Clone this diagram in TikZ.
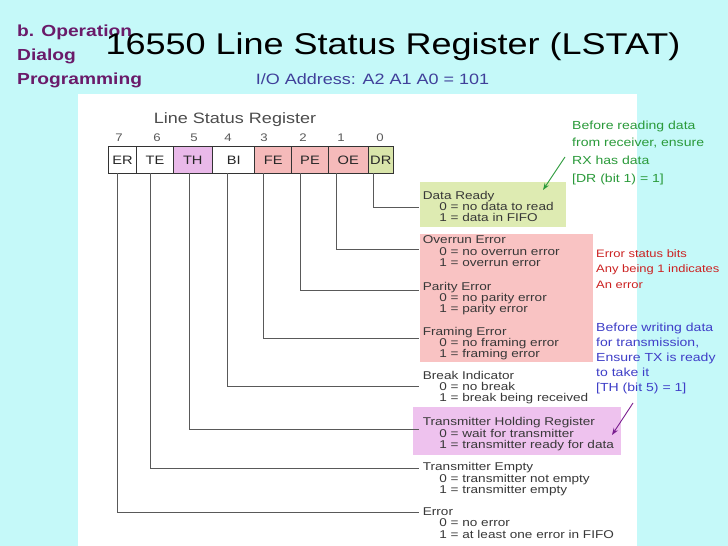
\documentclass[tikz,border=0pt]{standalone}
\usepackage{fontspec}
\setmainfont{Liberation Sans}[FakeStretch=1.2]
\usetikzlibrary{arrows.meta}
\definecolor{bgcyan}{HTML}{C5F9F9}
\definecolor{labelpurple}{HTML}{6A1B6A}
\definecolor{addrblue}{HTML}{40409A}
\definecolor{drgreen}{HTML}{DEEBB2}
\definecolor{cellgreen}{HTML}{D9E5AA}
\definecolor{errpink}{HTML}{F9C3C3}
\definecolor{cellpink}{HTML}{F5BABA}
\definecolor{thpurple}{HTML}{EEC2EE}
\definecolor{cellpurple}{HTML}{E9B9E9}
\definecolor{notegreen}{HTML}{2A9A3A}
\definecolor{notered}{HTML}{CC2222}
\definecolor{noteblue}{HTML}{3F3FC8}
\definecolor{arrowpurple}{HTML}{7A1F8F}
\newcommand\ind{\hspace*{16.5pt}}

\begin{document}
\begin{tikzpicture}[x=1pt,y=-1pt,
  cell/.style={draw=black!80,line width=1pt,minimum height=26.3pt,inner sep=0pt,font=\fontsize{12.2}{13}\selectfont,text=black!85},
  bitno/.style={anchor=base,inner sep=0pt,font=\fontsize{11}{12}\selectfont,text=black!65},
  desc/.style={anchor=north west,inner sep=0pt,align=left,text=black!78,font=\fontsize{11.3}{11.4}\selectfont},
  lead/.style={draw=black!65,line width=.9pt},
  note/.style={anchor=north west,inner sep=0pt,align=left,font=\fontsize{11.7}{15.6}\selectfont}]
\path[use as bounding box] (0,0) rectangle (728,546);
\fill[bgcyan] (0,0) rectangle (728,546);
\fill[white] (77.5,94) rectangle (637,546);
\node[anchor=north west,inner sep=0pt,align=left,text=labelpurple,font=\bfseries\fontsize{16}{24}\selectfont] (part) at (17,25) {b. Operation\\Dialog\\Programming};
\node[anchor=base,inner sep=0pt,font=\fontsize{30}{36}\selectfont] (title) at (393,54) {16550 Line Status Register (LSTAT)};
\node[anchor=base,inner sep=0pt,text=addrblue,font=\fontsize{15}{18}\selectfont] (addr) at (372.5,84) {I/O Address: A2 A1 A0 = 101};

\node[anchor=base,inner sep=0pt,text=black!70,font=\fontsize{15}{18}\selectfont] (lsr) at (235,123) {Line Status Register};
\node[bitno] (n7) at (119,141) {7};
\node[bitno] (n6) at (157,141) {6};
\node[bitno] (n5) at (194,141) {5};
\node[bitno] (n4) at (228,141) {4};
\node[bitno] (n3) at (264,141) {3};
\node[bitno] (n2) at (303,141) {2};
\node[bitno] (n1) at (341,141) {1};
\node[bitno] (n0) at (380,141) {0};
\node[cell,minimum width=28.4pt] (ER) at (122.5,160) {ER};
\node[cell,minimum width=36.6pt] (TE) at (155,160) {TE};
\node[cell,minimum width=39pt,fill=cellpurple] (TH) at (192.8,160) {TH};
\node[cell,minimum width=42.7pt] (BI) at (233.7,160) {BI};
\node[cell,minimum width=36.7pt,fill=cellpink] (FE) at (273.3,160) {FE};
\node[cell,minimum width=36.6pt,fill=cellpink] (PE) at (310,160) {PE};
\node[cell,minimum width=40pt,fill=cellpink] (OE) at (348.3,160) {OE};
\node[cell,minimum width=25pt,fill=cellgreen] (DR) at (380.8,160) {DR};

\fill[drgreen] (420,182) rectangle (566,227);
\fill[errpink] (420,234) rectangle (593,362);
\fill[thpurple] (413,407) rectangle (621,455);

\coordinate (tDR) at (373.3,173.2); \coordinate (eDR) at (419,207);
\coordinate (tOE) at (336.7,173.2); \coordinate (eOE) at (419,249);
\coordinate (tPE) at (300,173.2);   \coordinate (ePE) at (419,290);
\coordinate (tFE) at (263.3,173.2); \coordinate (eFE) at (419,338);
\coordinate (tBI) at (227.3,173.2); \coordinate (eBI) at (419,386);
\coordinate (tTH) at (189,173.2);   \coordinate (eTH) at (419,429);
\coordinate (tTE) at (150.7,173.2); \coordinate (eTE) at (419,468);
\coordinate (tER) at (117.3,173.2); \coordinate (eER) at (419,512);
\draw[lead] (tDR) |- (eDR);
\draw[lead] (tOE) |- (eOE);
\draw[lead] (tPE) |- (ePE);
\draw[lead] (tFE) |- (eFE);
\draw[lead] (tBI) |- (eBI);
\draw[lead] (tTH) |- (eTH);
\draw[lead] (tTE) |- (eTE);
\draw[lead] (tER) |- (eER);

\node[desc] (dDR) at (422.7,190.8) {Data Ready\\\ind 0 = no data to read\\\ind 1 = data in FIFO};
\node[desc] (dOE) at (422.7,235.8) {Overrun Error\\\ind 0 = no overrun error\\\ind 1 = overrun error};
\node[desc] (dPE) at (422.7,281.8) {Parity Error\\\ind 0 = no parity error\\\ind 1 = parity error};
\node[desc] (dFE) at (422.7,326.8) {Framing Error\\\ind 0 = no framing error\\\ind 1 = framing error};
\node[desc] (dBI) at (422.7,370.8) {Break Indicator\\\ind 0 = no break\\\ind 1 = break being received};
\node[desc] (dTH) at (422.7,417.5) {Transmitter Holding Register\\\ind 0 = wait for transmitter\\\ind 1 = transmitter ready for data};
\node[desc] (dTE) at (422.7,462.5) {Transmitter Empty\\\ind 0 = transmitter not empty\\\ind 1 = transmitter empty};
\node[desc] (dER) at (422.7,507.5) {Error\\\ind 0 = no error\\\ind 1 = at least one error in FIFO};

\node[note,text=notegreen,font=\fontsize{11.7}{17.6}\selectfont] (rxnote) at (572,120.7) {Before reading data\\from receiver, ensure\\RX has data\\{}[DR (bit 1) = 1]};
\node[note,text=notered,font=\fontsize{10.8}{15.7}\selectfont] (errnote) at (596,249) {Error status bits\\Any being 1 indicates\\An error};
\node[note,text=noteblue,font=\fontsize{11.7}{15}\selectfont] (txnote) at (596,322.7) {Before writing data\\for transmission,\\Ensure TX is ready\\to take it\\{}[TH (bit 5) = 1]};
\coordinate (gs) at (565,157); \coordinate (ge) at (543,190);
\coordinate (ps) at (633,403); \coordinate (pe) at (612,435);
\draw[notegreen,line width=.9pt,-{Stealth[length=7pt,width=5pt]}] (gs) -- (ge);
\draw[arrowpurple,line width=.9pt,-{Stealth[length=7pt,width=5pt]}] (ps) -- (pe);
\end{tikzpicture}
\end{document}
